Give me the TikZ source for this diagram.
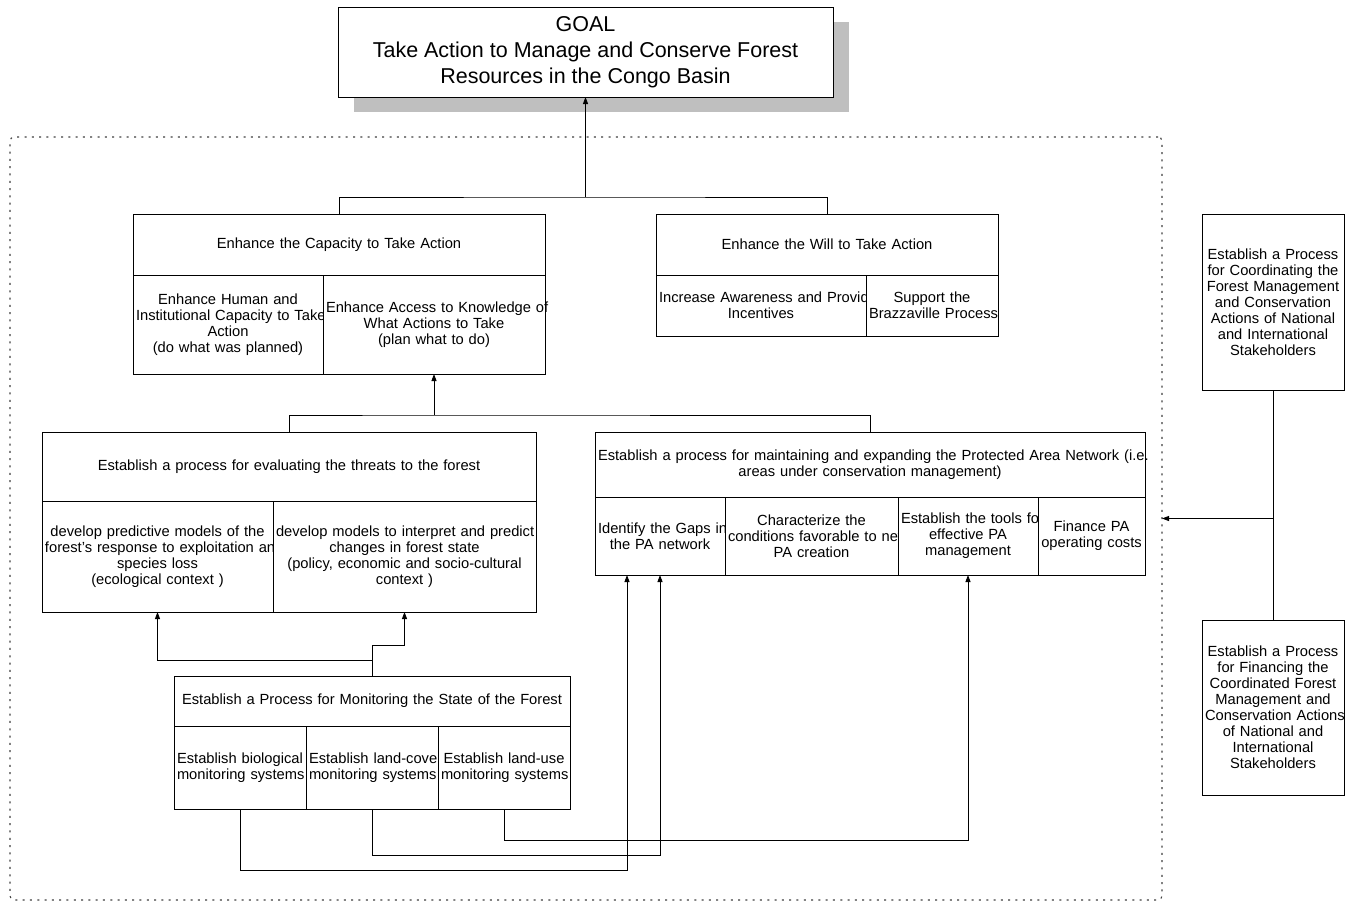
\documentclass[tikz,border=0pt]{standalone}
\usepackage{fontspec}
\setmainfont{Liberation Sans}
\usetikzlibrary{arrows.meta, positioning, shadows}
\newcommand{\cellfont}{\fontsize{14.7}{16}\selectfont}
\newcommand{\goalfont}{\fontsize{21.5}{26}\selectfont}

\begin{document}
\begin{tikzpicture}[x=1pt, y=-1pt,
  cell/.style={draw, fill=white, anchor=north west, inner xsep=3pt, inner ysep=0pt, outer sep=0pt, align=center, font=\cellfont, line width=0.9pt},
  goalbox/.style={draw, fill=white, minimum width=495pt, minimum height=90pt, align=center, font=\goalfont, line width=0.9pt, outer sep=0pt,
    drop shadow={fill=black!25, opacity=1, shadow xshift=16pt, shadow yshift=-15pt}},
  frame/.style={draw, black!75, dash pattern=on 2pt off 5.3pt, line width=1.1pt, rounded corners=4pt, outer sep=0pt, minimum width=1152pt, minimum height=763pt},
  link/.style={line width=0.9pt},
  arrow/.style={-{Triangle[length=7pt, width=5pt]}, line width=0.9pt},
]
  \useasboundingbox (0,0) rectangle (1361,902);

  % dotted frame round the two branches
  \node[frame] (plan) at (586,518.5) {};

  % goal
  \node[goalbox] (goal) at (585.5,52) {GOAL\\Take Action to Manage and Conserve Forest\\Resources in the Congo Basin};

  % capacity
  \node[cell, text width=406pt, minimum height=61pt] (cap) at (133,214) {Enhance the Capacity to Take Action};
  \node[cell, text width=184pt, minimum height=99pt] (human) at (cap.south west) {\mbox{Enhance Human and}\\\mbox{Institutional Capacity to Take}\\Action\\\mbox{(do what was planned)}};
  \node[cell, text width=216pt, minimum height=99pt] (access) at (human.north east) {\mbox{Enhance Access to Knowledge of}\\\mbox{What Actions to Take}\\\mbox{(plan what to do)}};

  % will
  \node[cell, text width=336pt, minimum height=61pt] (will) at (656,214) {Enhance the Will to Take Action};
  \node[cell, text width=204pt, minimum height=61pt] (aware) at (will.south west) {\mbox{Increase Awareness and Provide}\\Incentives};
  \node[cell, text width=126pt, minimum height=61pt] (brazza) at (aware.north east) {\mbox{Support the}\\\mbox{Brazzaville Process}};

  % threats
  \node[cell, text width=488pt, minimum height=69pt] (threat) at (42,432) {Establish a process for evaluating the threats to the forest};
  \node[cell, text width=225pt, minimum height=111pt] (pred) at (threat.south west) {\mbox{develop predictive models of the}\\\mbox{forest's response to exploitation and}\\\mbox{species loss}\\\mbox{(ecological context )}};
  \node[cell, text width=257pt, minimum height=111pt] (interp) at (pred.north east) {\mbox{develop models to interpret and predict}\\\mbox{changes in forest state}\\\mbox{(policy, economic and socio-cultural}\\\mbox{context )}};

  % protected areas
  \node[cell, text width=544pt, minimum height=65pt] (pa) at (595,432) {\mbox{Establish a process for maintaining and expanding the Protected Area Network (i.e.}\\\mbox{areas under conservation management)}};
  \node[cell, text width=124pt, minimum height=78pt] (gaps) at (pa.south west) {\mbox{Identify the Gaps in}\\\mbox{the PA network}};
  \node[cell, text width=167pt, minimum height=78pt] (cond) at (gaps.north east) {\mbox{Characterize the}\\\mbox{conditions favorable to new}\\\mbox{PA creation}};
  \node[cell, text width=134pt, minimum height=78pt] (tools) at (cond.north east) {\mbox{Establish the tools for}\\\mbox{effective PA}\\management};
  \node[cell, text width=101pt, minimum height=78pt] (costs) at (tools.north east) {\mbox{Finance PA}\\\mbox{operating costs}};

  % monitoring
  \node[cell, text width=390pt, minimum height=50pt] (mon) at (174,676) {\mbox{Establish a Process for Monitoring the State of the Forest}};
  \node[cell, text width=126pt, minimum height=83pt] (bio) at (mon.south west) {\mbox{Establish biological}\\\mbox{monitoring systems}};
  \node[cell, text width=126pt, minimum height=83pt] (cover) at (bio.north east) {\mbox{Establish land-cover}\\\mbox{monitoring systems}};
  \node[cell, text width=126pt, minimum height=83pt] (use) at (cover.north east) {\mbox{Establish land-use}\\\mbox{monitoring systems}};

  % right column
  \node[cell, text width=136pt, minimum height=176pt] (coord) at (1202,214) {\mbox{Establish a Process}\\\mbox{for Coordinating the}\\\mbox{Forest Management}\\\mbox{and Conservation}\\\mbox{Actions of National}\\\mbox{and International}\\Stakeholders};
  \node[cell, text width=136pt, minimum height=175pt] (fund) at (1202,620) {\mbox{Establish a Process}\\\mbox{for Financing the}\\\mbox{Coordinated Forest}\\\mbox{Management and}\\\mbox{Conservation Actions}\\\mbox{of National and}\\International\\Stakeholders};

  \coordinate (j1) at (goal.south |- 0,197);
  \draw[link] (cap.north) |- (j1) -| (will.north);
  \draw[arrow] (j1) -- (goal.south);

  \coordinate (j2) at (access.south |- 0,415);
  \draw[link] (threat.north) |- (j2) -| (pa.north);
  \draw[arrow] (j2) -- (access.south);

  \draw[arrow] (mon.north) -- ++(0,-16) -| (pred.south);
  \draw[arrow] (mon.north) -- ++(0,-31) -| (interp.south);

  \draw[arrow] (bio.south) -- ++(0,61) -| ([xshift=-33pt]gaps.south);
  \draw[arrow] (cover.south) -- ++(0,46) -| (gaps.south);
  \draw[arrow] (use.south) -- ++(0,31) -| (tools.south);

  \draw[link] (coord.south) -- (fund.north);
  \draw[arrow] (coord.south |- plan.east) -- (plan.east);
\end{tikzpicture}
\end{document}
